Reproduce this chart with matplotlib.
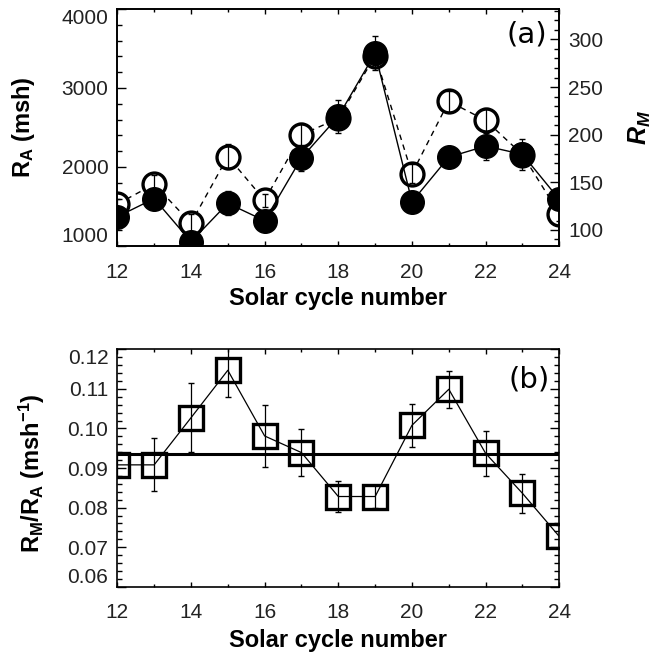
import matplotlib
matplotlib.use('Agg')
import matplotlib.pyplot as plt
import numpy as np
from matplotlib.ticker import MultipleLocator

plt.rcParams['font.family'] = ['Liberation Sans', 'DejaVu Sans']
plt.rcParams['mathtext.fontset'] = 'custom'
plt.rcParams['mathtext.rm'] = 'Liberation Sans'
plt.rcParams['mathtext.bf'] = 'Liberation Sans:bold'
plt.rcParams['mathtext.it'] = 'Liberation Sans:bold:italic'

# solar cycle numbers
cycles = [12, 13, 14, 15, 16, 17, 18, 19, 20, 21, 22, 23, 24]

# R_A (msh), filled circles, left axis
ra = [1370, 1600, 1055, 1540, 1320, 2115, 2640, 3440, 1560, 2125, 2265, 2160, 1590]
ra_err = [80, 100, 80, 150, 100, 160, 210, 215, 80, 60, 175, 200, 100]

# R_M, open circles, right axis
rm = [127, 148, 107, 177, 131, 200, 217, 283, 159, 235, 215, 179, 117]
rm_err = [5, 10, 10, 13, 7, 12, 10, 10, 10, 11, 13, 10, 8]

# R_M / R_A (msh^-1), squares
ratio = [0.0908, 0.0908, 0.1027, 0.1147, 0.0981, 0.0939, 0.0828, 0.0828,
         0.1008, 0.1099, 0.0937, 0.0836, 0.0727]
ratio_err = [0.003, 0.0067, 0.0087, 0.0068, 0.0078, 0.006, 0.004, 0.003,
             0.0055, 0.0047, 0.0056, 0.005, 0.003]
ratio_mean = 0.0935

ra_ticks = [1000, 2000, 3000, 4000]
ratio_ticks = [0.06, 0.07, 0.08, 0.09, 0.10, 0.11, 0.12]

tick_col = '#222222'

fig = plt.figure(figsize=(6.55, 6.56), dpi=100)

def style_ticks(ax):
    ax.tick_params(which='both', direction='in', labelsize=15, labelcolor=tick_col, width=1)
    ax.tick_params(axis='x', which='major', length=3.5, pad=12)
    ax.tick_params(axis='x', which='minor', length=2)
    ax.tick_params(axis='y', which='major', length=6.5, pad=6.5)
    ax.tick_params(axis='y', which='minor', length=3.5)
    for s in ax.spines.values():
        s.set_linewidth(1.2)

def end_labels(ax):
    # first and last y labels sit inside the axis range, as in the original
    labs = ax.get_yticklabels()
    labs[0].set_va('bottom')
    labs[-1].set_va('top')

# ---- panel (a)
ax1 = fig.add_axes([0.1791, 0.625, 0.6748, 0.3613])
ax2 = ax1.twinx()
ax1.set_zorder(ax2.get_zorder() + 1)
ax1.patch.set_visible(False)

ax2.plot(cycles, rm, color='black', ls=(0, (4, 3.5)), lw=1, zorder=1)
ax2.plot(cycles, rm, ls='none', marker='o', ms=16.5, mfc='white', mec='black', mew=2.4, zorder=2)
ax2.errorbar(cycles, rm, yerr=rm_err, fmt='none', ecolor='black', elinewidth=0.9, capsize=2.5, zorder=3)

ax1.plot(cycles, ra, color='black', lw=1, zorder=2)
ax1.errorbar(cycles, ra, yerr=ra_err, fmt='none', ecolor='black', elinewidth=0.9, capsize=2.5, zorder=3)
ax1.plot(cycles, ra, ls='none', marker='o', ms=17, mfc='black', mec='black', zorder=4)

ax1.set_xlim(12, 24)
ax1.set_ylim(1000, 4000)
ax2.set_ylim(83, 332)
ax1.xaxis.set_major_locator(MultipleLocator(2))
ax1.xaxis.set_minor_locator(MultipleLocator(1))
ax1.set_yticks(ra_ticks, [str(t) for t in ra_ticks])
ax1.yaxis.set_minor_locator(MultipleLocator(200))
ax2.yaxis.set_major_locator(MultipleLocator(50))
ax2.yaxis.set_minor_locator(MultipleLocator(10))
style_ticks(ax1)
style_ticks(ax2)
ax1.tick_params(axis='x', which='both', top=True)
ax1.tick_params(axis='y', which='both', right=False)
end_labels(ax1)

ax1.set_xlabel('Solar cycle number', fontsize=17, fontweight='bold')
ax1.xaxis.set_label_coords(0.5, -0.175)
ax1.set_ylabel(r'$\mathbf{R}_\mathbf{A}$ (msh)', fontsize=17, fontweight='bold')
ax1.yaxis.set_label_coords(-0.213, 0.5)
ax1.yaxis.label.set_va('center')
ax2.set_ylabel(r'$\mathit{R}_\mathit{M}$', fontsize=18)
ax2.yaxis.set_label_coords(1.183, 0.5)
ax2.yaxis.label.set_va('center')
ax1.text(0.973, 0.894, '(a)', transform=ax1.transAxes, ha='right', va='center',
         fontsize=21, family='DejaVu Sans', zorder=10)

# ---- panel (b)
ax3 = fig.add_axes([0.1791, 0.1056, 0.6748, 0.3619])
ax3.axhline(ratio_mean, color='black', lw=2.2, zorder=1)
ax3.plot(cycles, ratio, color='black', lw=0.9, zorder=3)
ax3.errorbar(cycles, ratio, yerr=ratio_err, fmt='none', ecolor='black', elinewidth=0.9, capsize=2.5, zorder=4)
ax3.plot(cycles, ratio, ls='none', marker='s', ms=17.5, mfc='none', mec='black', mew=2.4, zorder=2)

ax3.set_xlim(12, 24)
ax3.set_ylim(0.06, 0.12)
ax3.xaxis.set_major_locator(MultipleLocator(2))
ax3.xaxis.set_minor_locator(MultipleLocator(1))
ax3.set_yticks(ratio_ticks, ['%.2f' % t for t in ratio_ticks])
ax3.yaxis.set_minor_locator(MultipleLocator(0.002))
style_ticks(ax3)
ax3.tick_params(which='both', top=True, right=True)
end_labels(ax3)

ax3.set_xlabel('Solar cycle number', fontsize=17, fontweight='bold')
ax3.xaxis.set_label_coords(0.5, -0.179)
ax3.set_ylabel(r'$\mathbf{R_M/R_A}$ $\mathbf{(msh^{-1})}$', fontsize=17)
ax3.yaxis.set_label_coords(-0.194, 0.477)
ax3.yaxis.label.set_va('center')
ax3.text(0.979, 0.871, '(b)', transform=ax3.transAxes, ha='right', va='center',
         fontsize=21, family='DejaVu Sans', zorder=10)

fig.savefig('out.png', dpi=100)
